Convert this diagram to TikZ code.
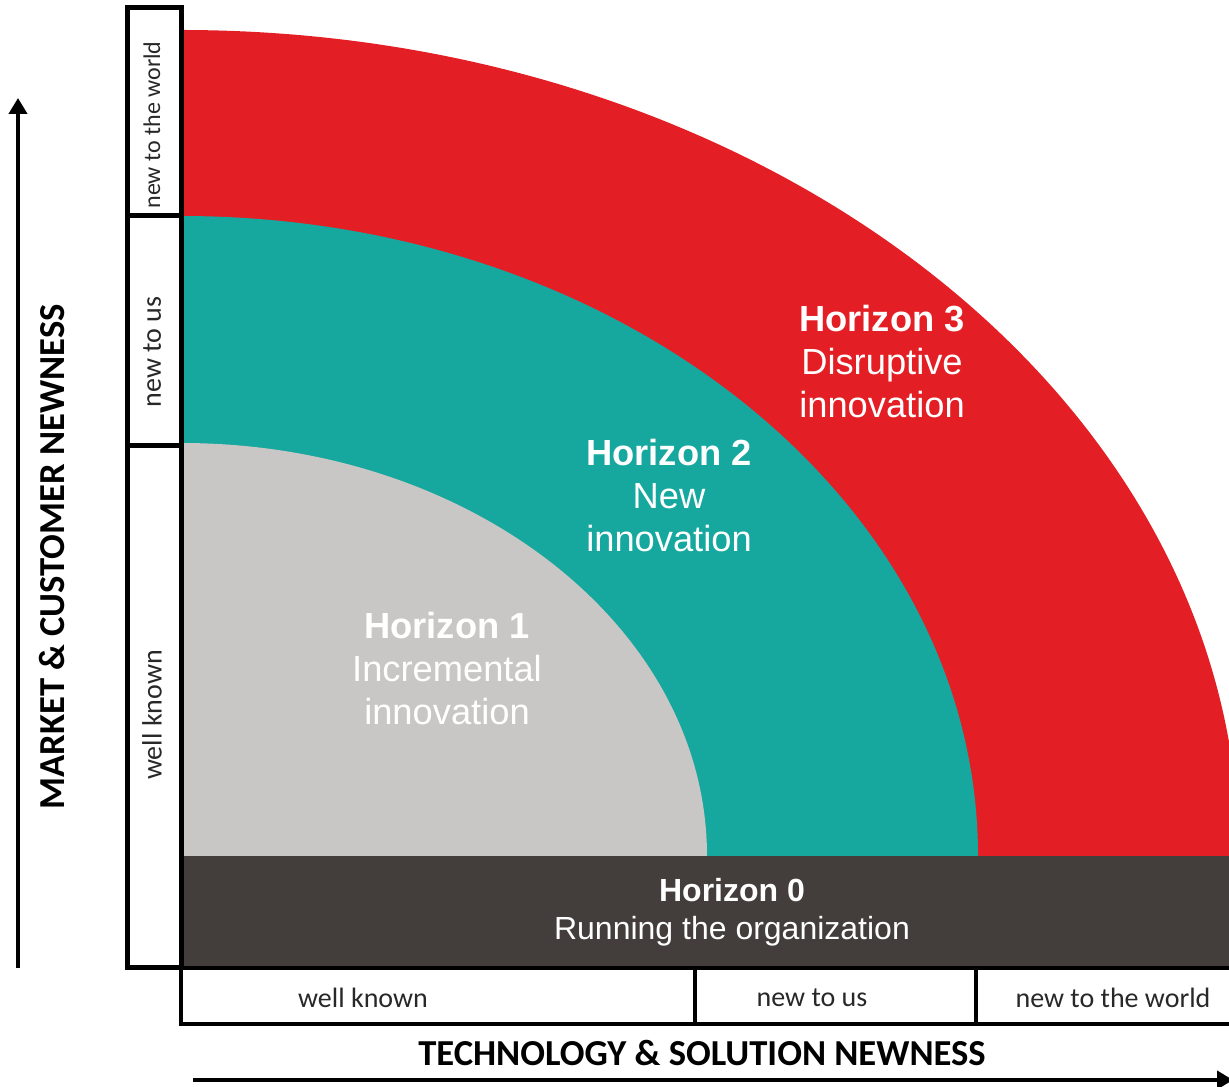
\documentclass[tikz,border=0pt]{standalone}
\usepackage{fontspec}
\setmainfont{Liberation Sans}
\newfontfamily\calibfont{Carlito}
\usetikzlibrary{arrows.meta}
\begin{document}
\begin{tikzpicture}[x=1pt,y=1pt,
  horizon/.style={text=white,align=center,inner sep=0pt,outer sep=0pt,font=\fontsize{36.3}{43}\selectfont},
  levelbox/.style={draw=black,line width=5pt,fill=white},
  leveltext/.style={text=drawColor,inner sep=0pt,outer sep=0pt,font=\calibfont\fontsize{28}{30}\selectfont},
  axistext/.style={text=black,inner sep=0pt,outer sep=0pt,font=\calibfont\bfseries\fontsize{36.6}{40}\selectfont},
  axisarrow/.style={draw=black,line width=4pt,-{Triangle[length=16pt,width=18pt]}}]
\definecolor{fillColor}{RGB}{255,255,255}
\path[use as bounding box,fill=fillColor] (0,0) rectangle (1229,1087);
\begin{scope}
\path[clip] (0,0) rectangle (1229,1087);
\definecolor{redColor}{RGB}{227,30,36}
\definecolor{tealColor}{RGB}{22,168,158}
\definecolor{greyColor}{RGB}{201,199,197}
\definecolor{darkColor}{RGB}{67,62,59}

% horizons as quarter ellipses
\path[fill=redColor] (181,231) -- (1239,231) arc[start angle=0,end angle=90,x radius=1058,y radius=826] -- cycle;

\path[fill=tealColor] (181,231) -- (978,231) arc[start angle=0,end angle=90,x radius=797,y radius=640] -- cycle;

\path[fill=greyColor] (181,231) -- (707,231) arc[start angle=0,end angle=90,x radius=526,y radius=413] -- cycle;

\path[fill=darkColor] (181,119) rectangle (1235,231);
\end{scope}

\node[horizon] (h3) at (882,725) {\textbf{Horizon 3}\\Disruptive\\innovation};

\node[horizon] (h2) at (669,591) {\textbf{Horizon 2}\\New\\innovation};

\node[horizon] (h1) at (447,418) {\textbf{Horizon 1}\\Incremental\\innovation};

\node[horizon,font=\fontsize{32}{38}\selectfont] (h0) at (732,175) {\textbf{Horizon 0}\\Running the organization};

% market axis
\definecolor{drawColor}{RGB}{40,40,40}
\path[levelbox] (127,119) rectangle (181,641);

\path[levelbox] (127,641) rectangle (181,871);

\path[levelbox] (127,871) rectangle (181,1079);

\node[leveltext,rotate=90] (ylow) at (152,372) {well known};

\node[leveltext,rotate=90] (ymid) at (152,735) {new to us};

\node[leveltext,rotate=90,font=\calibfont\fontsize{24}{26}\selectfont] (ytop) at (152,962) {new to the world};

% technology axis
\path[draw=black,line width=4pt,fill=white] (1240,119) -- (181,119) -- (181,63) -- (1240,63);

\path[draw=black,line width=4pt] (695,119) -- (695,63);

\path[draw=black,line width=4pt] (976,119) -- (976,63);

\node[leveltext] (xlow) at (363,89) {well known};

\node[leveltext] (xmid) at (812,89) {new to us};

\node[leveltext] (xtop) at (1113,89) {new to the world};

% axis arrows and titles
\coordinate (yfrom) at (18,119);
\coordinate (yto) at (18,989);
\coordinate (xfrom) at (193,7);
\coordinate (xto) at (1233,7);
\draw[axisarrow] (yfrom) -- (yto);

\draw[axisarrow] (xfrom) -- (xto);

\node[axistext,rotate=90] (ylabel) at (52,530) {MARKET \& CUSTOMER NEWNESS};

\node[axistext] (xlabel) at (702,34) {TECHNOLOGY \& SOLUTION NEWNESS};
\end{tikzpicture}
\end{document}
